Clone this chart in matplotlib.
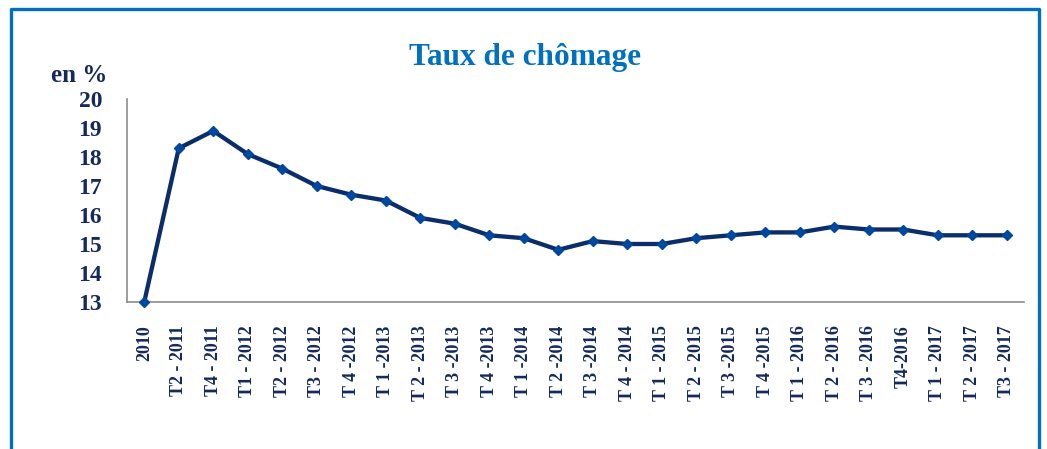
import matplotlib
matplotlib.use("Agg")
from matplotlib import pyplot as plt
from matplotlib.lines import Line2D

periods = ["2010", "T2 - 2011", "T4 - 2011", "T1 - 2012", "T2 - 2012", "T3 - 2012",
           "T 4 -2012", "T 1 -2013", "T 2 - 2013", "T 3 -2013", "T 4 -2013", "T 1 -2014",
           "T 2 -2014", "T 3 -2014", "T 4 - 2014", "T 1 - 2015", "T 2 - 2015", "T 3 -2015",
           "T 4 -2015", "T 1 - 2016", "T 2 - 2016", "T 3 - 2016", "T4-2016", "T 1 - 2017",
           "T 2 - 2017", "T3 - 2017"]
taux = [13.0, 18.3, 18.9, 18.1, 17.6, 17.0, 16.7, 16.5, 15.9, 15.7, 15.3, 15.2,
        14.8, 15.1, 15.0, 15.0, 15.2, 15.3, 15.4, 15.4, 15.6, 15.5, 15.5, 15.3,
        15.3, 15.3]
yticks = [13, 14, 15, 16, 17, 18, 19, 20]

navy = "#14295c"
serif = ["Liberation Serif", "DejaVu Serif"]

fig = plt.figure(figsize=(10.47, 4.49), dpi=100)
ax = fig.add_axes([127 / 1047, 1 - 302 / 449, (1024 - 127) / 1047, (302 - 99) / 449])

x = list(range(len(taux)))
ax.plot(x, taux, color="#0b2d69", lw=3.1, marker="D", markersize=5,
        markerfacecolor="#0047a0", markeredgecolor="#0047a0", zorder=3,
        clip_on=False)

ax.set_xlim(-0.5, len(taux) - 0.5)
ax.set_ylim(13, 20)
ax.set_yticks(yticks)
ax.set_yticklabels([str(v) for v in yticks], family=serif, fontweight="bold",
                   fontsize=17, color=navy)
ax.set_xticks(x)
ax.set_xticklabels(periods, rotation=90, family=serif, fontweight="bold",
                   fontsize=13, color=navy, va="top", ha="center")
ax.tick_params(axis="y", length=0, pad=18)
ax.tick_params(axis="x", length=0, pad=17)

for s in ["top", "right"]:
    ax.spines[s].set_visible(False)
for s in ["left", "bottom"]:
    ax.spines[s].set_color("#8c8c8c")
    ax.spines[s].set_linewidth(1.2)

fig.text(525 / 1047, 1 - 57 / 449, "Taux de chômage", ha="center", va="center",
         family=serif, fontweight="bold", fontsize=22.5, color="#0070c0")
fig.text(79 / 1047, 1 - 75 / 449, "en %", ha="center", va="center",
         family=serif, fontweight="bold", fontsize=18, color=navy)

# cadre bleu autour du graphique
fig.add_artist(Line2D([11 / 1047, 11 / 1047, 1039 / 1047, 1039 / 1047],
                      [0, 1 - 9 / 449, 1 - 9 / 449, 0],
                      transform=fig.transFigure, color="#0070c0", lw=2.4))

fig.savefig("out.png", dpi=100)
